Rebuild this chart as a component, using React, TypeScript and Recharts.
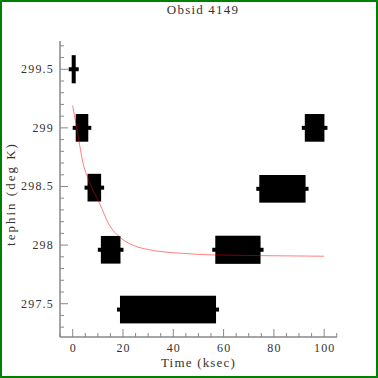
import React from 'react';
import { ComposedChart, Line, ReferenceArea, XAxis, YAxis } from 'recharts';

// time bins (ksec) and mean tephin (deg K) with half-widths
const binTime = [0.4, 3.7, 8.6, 15.1, 37.9, 65.7, 83.4, 96.2];
const binHalfWidth = [0.8, 2.5, 2.7, 3.9, 19.1, 9.0, 9.2, 3.9];
const binTemp = [299.5, 299.0, 298.49, 297.96, 297.45, 297.96, 298.48, 299.0];
const binTempErr = [0.12, 0.118, 0.118, 0.118, 0.118, 0.12, 0.118, 0.118];

// fitted exponential curve
const curveTime = [0, 2.4, 4, 6.4, 10.6, 14.6, 18.6, 23.9, 30.5, 37.1, 43.6, 50.4, 60, 75, 100];
const curveTemp = [299.19, 298.9, 298.71, 298.55, 298.36, 298.17, 298.07, 298.0, 297.96, 297.94, 297.93, 297.92, 297.915, 297.91, 297.905];

const xTicks = [-5, 0, 5, 10, 15, 20, 25, 30, 35, 40, 45, 50, 55, 60, 65, 70, 75, 80, 85, 90, 95, 100, 105];
const xMajor = [0, 20, 40, 60, 80, 100];
const yTicks = [
  297.3, 297.4, 297.5, 297.6, 297.7, 297.8, 297.9, 298, 298.1, 298.2, 298.3, 298.4, 298.5,
  298.6, 298.7, 298.8, 298.9, 299, 299.1, 299.2, 299.3, 299.4, 299.5, 299.6, 299.7,
];
const yMajor = [297.5, 298, 298.5, 299, 299.5];

const X_DOMAIN = [-5.05, 105.1];
const Y_DOMAIN = [297.216, 299.741];

const AXIS = '#888';
const FONT = '"Liberation Serif", serif';
const TXT = '#333';

const curve = curveTime.map((t, i) => ({ t, v: curveTemp[i] }));

const isMajor = (list: number[], v: number) => list.some((m) => Math.abs(m - v) < 1e-6);

const BottomTick = (p: any) => {
  const major = isMajor(xMajor, p.payload.value);
  return (
    <g>
      <line x1={p.x} x2={p.x} y1={p.y} y2={p.y - (major ? 8 : 4)} stroke={AXIS} strokeWidth={1} />
      {major && (
        <text x={p.x + 0.6} y={p.y + 15} textAnchor="middle" fontFamily={FONT} fontSize={12} letterSpacing={1.2} fill={TXT}>
          {p.payload.value}
        </text>
      )}
    </g>
  );
};

const TopTick = (p: any) => {
  const major = isMajor(xMajor, p.payload.value);
  return <line x1={p.x} x2={p.x} y1={p.y} y2={p.y + (major ? 8 : 4)} stroke={AXIS} strokeWidth={1} />;
};

const LeftTick = (p: any) => {
  const major = isMajor(yMajor, p.payload.value);
  return (
    <g>
      <line x1={p.x} x2={p.x + (major ? 8 : 4)} y1={p.y} y2={p.y} stroke={AXIS} strokeWidth={1} />
      {major && (
        <text x={p.x - 6} y={p.y + 4} textAnchor="end" fontFamily={FONT} fontSize={12} letterSpacing={1.2} fill={TXT}>
          {p.payload.value}
        </text>
      )}
    </g>
  );
};

const RightTick = (p: any) => {
  const major = isMajor(yMajor, p.payload.value);
  return <line x1={p.x} x2={p.x - (major ? 8 : 4)} y1={p.y} y2={p.y} stroke={AXIS} strokeWidth={1} />;
};

const BinBox = (p: any) => {
  const { x, y, width, height } = p;
  const cy = y + height / 2;
  return (
    <g>
      <rect x={x} y={y} width={width} height={height} fill="#000" />
      <rect x={x - 3} y={cy - 2} width={width + 6} height={4} fill="#000" />
    </g>
  );
};

export default function App() {
  return (
    <div
      style={{
        position: 'fixed',
        left: 0,
        top: 0,
        width: 378,
        height: 378,
        boxSizing: 'border-box',
        border: '2px solid #008000',
        background: '#fff',
        overflow: 'hidden',
      }}
    >
      <div
        style={{
          position: 'absolute', left: 151, top: 1, width: 100, textAlign: 'center',
          fontFamily: FONT, fontSize: 13, lineHeight: '13px', letterSpacing: 1.2, color: TXT,
        }}
      >
        Obsid 4149
      </div>
      <div
        style={{
          position: 'absolute', left: 136.5, top: 354, width: 120, textAlign: 'center',
          fontFamily: FONT, fontSize: 13, lineHeight: '13px', letterSpacing: 1.2, color: TXT,
        }}
      >
        Time (ksec)
      </div>
      <div
        style={{
          position: 'absolute', left: 9 - 100, top: 192 - 7, width: 200, height: 14, textAlign: 'center',
          fontFamily: FONT, fontSize: 13, lineHeight: '14px', letterSpacing: 2, color: TXT,
          transform: 'rotate(-90deg)',
        }}
      >
        tephin (deg K)
      </div>
      <div style={{ position: 'absolute', left: 0, top: 0 }}>
        <ComposedChart width={374} height={374} data={curve} margin={{ top: 39, right: 39, left: 0, bottom: 0 }}>
          <XAxis
            dataKey="t"
            type="number"
            domain={X_DOMAIN}
            allowDataOverflow
            ticks={xTicks}
            interval={0}
            height={39}
            tickSize={0}
            tickMargin={0}
            tickLine={false}
            axisLine={{ stroke: AXIS, strokeWidth: 1.5 }}
            tick={BottomTick}
          />
          <XAxis
            xAxisId="top"
            orientation="top"
            dataKey="t"
            type="number"
            domain={X_DOMAIN}
            allowDataOverflow
            ticks={xTicks}
            interval={0}
            height={0}
            tickSize={0}
            tickMargin={0}
            tickLine={false}
            axisLine={{ stroke: AXIS, strokeWidth: 1.5 }}
            tick={TopTick}
          />
          <YAxis
            type="number"
            domain={Y_DOMAIN}
            allowDataOverflow
            ticks={yTicks}
            interval={0}
            width={58}
            tickSize={0}
            tickMargin={0}
            tickLine={false}
            axisLine={{ stroke: AXIS, strokeWidth: 1.5 }}
            tick={LeftTick}
          />
          <YAxis
            yAxisId="right"
            orientation="right"
            type="number"
            domain={Y_DOMAIN}
            allowDataOverflow
            ticks={yTicks}
            interval={0}
            width={0}
            tickSize={0}
            tickMargin={0}
            tickLine={false}
            axisLine={{ stroke: AXIS, strokeWidth: 1.5 }}
            tick={RightTick}
          />
          {binTime.map((t, i) => (
            <ReferenceArea
              key={i}
              x1={t - binHalfWidth[i]}
              x2={t + binHalfWidth[i]}
              y1={binTemp[i] - binTempErr[i]}
              y2={binTemp[i] + binTempErr[i]}
              shape={BinBox}
            />
          ))}
          <Line
            type="monotone"
            dataKey="v"
            stroke="#ff0000"
            strokeOpacity={0.5}
            strokeWidth={1}
            dot={false}
            activeDot={false}
            isAnimationActive={false}
          />
        </ComposedChart>
      </div>
    </div>
  );
}
